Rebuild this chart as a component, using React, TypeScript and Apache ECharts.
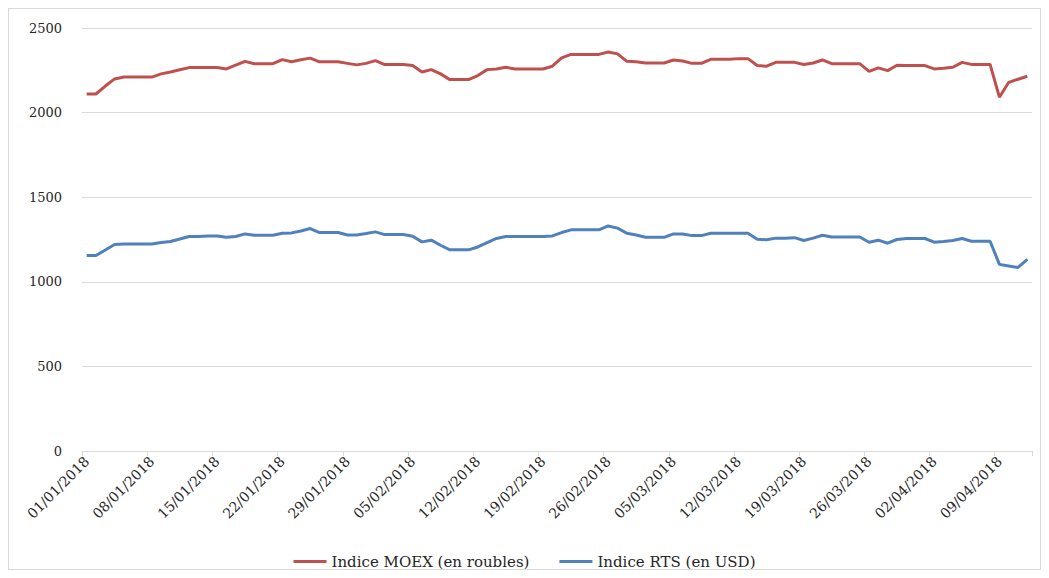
import React, { useEffect, useRef } from "react";
import * as echarts from "echarts";

// Daily categories from 01/01/2018 to 12/04/2018
const startDate = new Date(Date.UTC(2018, 0, 1));
const dayCount = 102;
const categories: string[] = [];
for (let i = 0; i < dayCount; i++) {
  const d = new Date(startDate.getTime() + i * 86400000);
  const dd = String(d.getUTCDate()).padStart(2, "0");
  const mm = String(d.getUTCMonth() + 1).padStart(2, "0");
  categories.push(`${dd}/${mm}/${d.getUTCFullYear()}`);
}

const moexValues = [
  2110, 2110, 2157, 2199, 2210, 2210, 2210, 2210, 2229, 2240,
  2253, 2266, 2266, 2266, 2266, 2258, 2280, 2303, 2289, 2289,
  2289, 2313, 2301, 2312, 2322, 2300, 2300, 2300, 2291, 2282,
  2291, 2307, 2284, 2284, 2284, 2278, 2240, 2254, 2229, 2195,
  2195, 2195, 2219, 2254, 2258, 2268, 2258, 2258, 2258, 2258,
  2274, 2323, 2344, 2344, 2344, 2344, 2358, 2347, 2303, 2301,
  2293, 2293, 2293, 2311, 2305, 2291, 2291, 2315, 2315, 2315,
  2319, 2319, 2278, 2274, 2297, 2297, 2297, 2284, 2293, 2311,
  2289, 2289, 2289, 2289, 2244, 2264, 2248, 2280, 2278, 2278,
  2278, 2258, 2262, 2268, 2297, 2285, 2285, 2285, 2091, 2179,
  2197, 2215,
];

const rtsValues = [
  1155, 1155, 1188, 1220, 1224, 1224, 1224, 1224, 1232, 1238,
  1253, 1268, 1268, 1270, 1271, 1263, 1268, 1283, 1275, 1275,
  1275, 1287, 1289, 1300, 1315, 1291, 1291, 1291, 1277, 1277,
  1285, 1295, 1279, 1279, 1279, 1269, 1236, 1246, 1216, 1189,
  1189, 1189, 1206, 1232, 1256, 1268, 1268, 1268, 1268, 1268,
  1271, 1291, 1307, 1307, 1307, 1307, 1330, 1317, 1287, 1277,
  1263, 1263, 1263, 1283, 1283, 1273, 1273, 1287, 1287, 1287,
  1287, 1287, 1252, 1248, 1258, 1258, 1261, 1244, 1258, 1275,
  1265, 1265, 1265, 1265, 1234, 1246, 1228, 1250, 1256, 1256,
  1256, 1234, 1238, 1244, 1256, 1240, 1240, 1240, 1103, 1094,
  1085, 1132,
];

const seriesNames = ["Indice MOEX (en roubles)", "Indice RTS (en USD)"];
const yTicks = { min: 0, max: 2500, interval: 500 };

const FONT = "DejaVu Serif";

export default function App() {
  const ref = useRef<HTMLDivElement>(null);
  useEffect(() => {
    if (!ref.current) return;
    const chart = echarts.init(ref.current, undefined, { renderer: "svg" });
    chart.setOption({
      animation: false,
      backgroundColor: "#ffffff",
      textStyle: { fontFamily: FONT },
      grid: { left: 73, right: 8, top: 19, bottom: 118, containLabel: false },
      legend: {
        top: 540,
        left: "center",
        icon: "rect",
        itemWidth: 33,
        itemHeight: 3,
        itemGap: 30,
        textStyle: { fontFamily: FONT, fontSize: 15, color: "#262626" },
        data: seriesNames,
      },
      xAxis: {
        type: "category",
        data: categories,
        boundaryGap: true,
        axisLine: { lineStyle: { color: "#d9d9d9", width: 1 } },
        axisTick: { show: true, interval: 6, length: 5, lineStyle: { color: "#d9d9d9" } },
        axisLabel: {
          interval: 6,
          rotate: 45,
          margin: 8,
          fontFamily: FONT,
          fontSize: 14,
          color: "#262626",
        },
        splitLine: { show: false },
      },
      yAxis: {
        type: "value",
        min: yTicks.min,
        max: yTicks.max,
        interval: yTicks.interval,
        axisLine: { show: false },
        axisTick: { show: false },
        axisLabel: {
          fontFamily: FONT,
          fontSize: 13,
          color: "#262626",
          margin: 20,
          formatter: (v: number) => String(v),
        },
        splitLine: { lineStyle: { color: "#d9d9d9", width: 1 } },
      },
      series: [
        {
          name: seriesNames[0],
          type: "line",
          data: moexValues,
          showSymbol: false,
          symbol: "none",
          lineStyle: { color: "#C0504D", width: 3 },
          itemStyle: { color: "#C0504D" },
        },
        {
          name: seriesNames[1],
          type: "line",
          data: rtsValues,
          showSymbol: false,
          symbol: "none",
          lineStyle: { color: "#4F81BD", width: 3 },
          itemStyle: { color: "#4F81BD" },
        },
      ],
    });
    return () => chart.dispose();
  }, []);
  return (
    <div
      ref={ref}
      style={{ width: 1033, height: 562, boxSizing: "border-box", border: "1px solid #d9d9d9" }}
    />
  );
}
